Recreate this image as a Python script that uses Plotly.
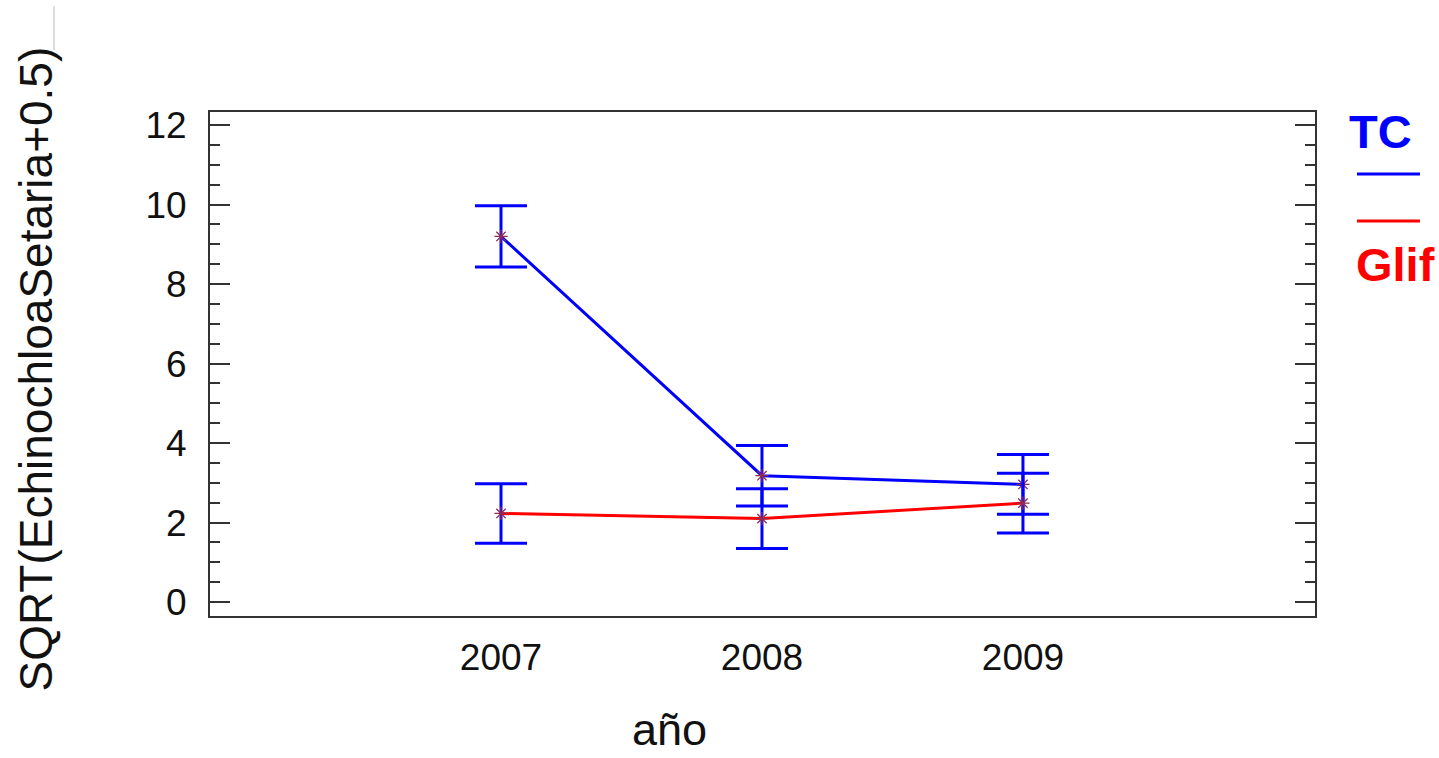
import plotly.graph_objects as go

years = [2007, 2008, 2009]
tc_mean = [9.20, 3.18, 2.96]
tc_err = [0.77, 0.76, 0.75]
glif_mean = [2.23, 2.10, 2.49]
glif_err = [0.75, 0.75, 0.75]
y_ticks = [0, 2, 4, 6, 8, 10, 12]
x_labels = ["2007", "2008", "2009"]

FONT = "Liberation Sans, Arial, sans-serif"
BLUE = "#0000FF"
RED = "#FF0000"
MARK = "#8E2A55"

fig = go.Figure()

for means, errs, col in [(tc_mean, tc_err, BLUE), (glif_mean, glif_err, RED)]:
    fig.add_trace(go.Scatter(
        x=years, y=means, mode="lines+markers",
        line=dict(color=col, width=3),
        marker=dict(symbol="asterisk-open", size=11, color=MARK,
                    line=dict(color=MARK, width=1.3)),
        error_y=dict(type="data", array=errs, visible=True, color=BLUE,
                     thickness=3, width=26),
        showlegend=False,
    ))

fig.update_layout(
    width=1439, height=758,
    margin=dict(l=210, r=124, t=112, b=142),
    paper_bgcolor="white", plot_bgcolor="white",
    font=dict(family=FONT, color="black"),
    xaxis=dict(
        range=[2005.885, 2010.119], tickvals=years, ticktext=x_labels,
        ticks="", showgrid=False, zeroline=False,
        showline=True, linecolor="#333333", linewidth=2, mirror=True,
        tickfont=dict(size=37, family=FONT, color="#111111"),
        ticklabelstandoff=8,
    ),
    yaxis=dict(
        range=[-0.35, 12.33], tickvals=y_ticks,
        ticks="inside", ticklen=20, tickwidth=2, tickcolor="#333333",
        minor=dict(ticks="inside", ticklen=10, dtick=0.5, tickwidth=2,
                   tickcolor="#333333", showgrid=False),
        showgrid=False, zeroline=False,
        showline=True, linecolor="#333333", linewidth=2, mirror="ticks",
        tickfont=dict(size=37, family=FONT, color="#111111"),
        ticklabelstandoff=14,
    ),
)

fig.add_annotation(text="SQRT(EchinochloaSetaria+0.5)", textangle=-90,
                   xref="paper", yref="paper", x=-0.1575, y=0.491,
                   xanchor="center", yanchor="middle", showarrow=False,
                   font=dict(size=46, family=FONT, color="#111111"))
fig.add_annotation(text="año", xref="paper", yref="paper", x=(669.5 - 210) / 1105,
                   y=(616 - 757) / 504, xanchor="center", yanchor="bottom",
                   showarrow=False,
                   font=dict(size=45, family=FONT, color="#111111"))
fig.add_annotation(text="<b>TC</b>", xref="paper", yref="paper", x=1.0597, y=0.9613,
                   xanchor="center", yanchor="middle", showarrow=False,
                   font=dict(size=47, family=FONT, color=BLUE))
fig.add_annotation(text="<b>Glif</b>", xref="paper", yref="paper", x=1.0724, y=0.6974,
                   xanchor="center", yanchor="middle", showarrow=False,
                   font=dict(size=47, family=FONT, color=RED))
fig.add_shape(type="line", xref="paper", yref="paper", x0=1.038, x1=1.095,
              y0=0.877, y1=0.877, line=dict(color=BLUE, width=3))
fig.add_shape(type="line", xref="paper", yref="paper", x0=1.038, x1=1.095,
              y0=0.7837, y1=0.7837, line=dict(color=RED, width=3))
# thin grey crop artifact at top-left
fig.add_shape(type="line", xref="paper", yref="paper",
              x0=(54 - 210) / 1105, x1=(54 - 210) / 1105,
              y0=(616 - 6) / 504, y1=(616 - 50) / 504,
              line=dict(color="#BBBBBB", width=1))

fig.write_html("out.html")
